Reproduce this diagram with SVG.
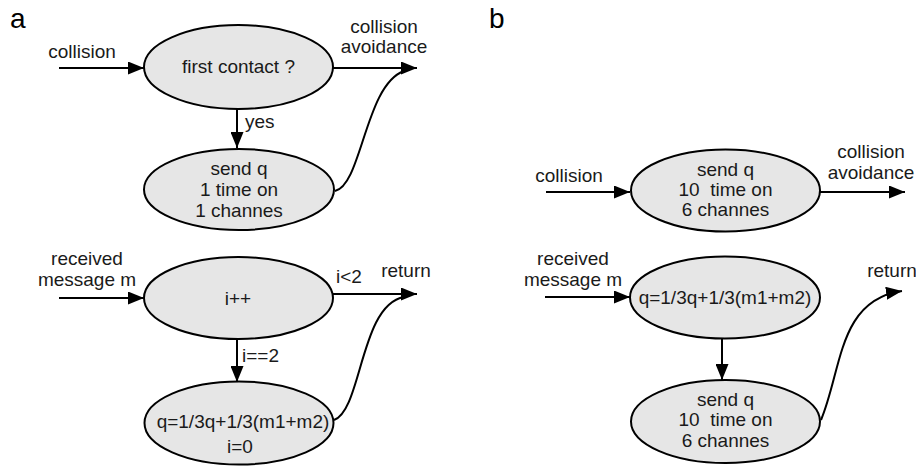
<svg xmlns="http://www.w3.org/2000/svg" width="916" height="467" viewBox="0 0 916 467">
<style>
.n{fill:#e6e6e6;stroke:#000;stroke-width:2}
.t{font-family:"Liberation Sans",Arial,sans-serif;font-size:19px;fill:#1a1a1a;text-anchor:middle}
.s{text-anchor:start}
.c{fill:none;stroke:#000;stroke-width:2}
.p{font-family:"Liberation Sans",Arial,sans-serif;font-size:28px;fill:#000}
</style>
<defs>
<marker id="ah" markerUnits="userSpaceOnUse" markerWidth="17" markerHeight="13" refX="16" refY="6.5" orient="auto">
<path d="M0,0 L16,6.5 L0,13 z" fill="#000"/>
</marker>
</defs>
<rect width="916" height="467" fill="#fff"/>
<text class="p" x="10" y="28">a</text>
<text class="p" x="489" y="28">b</text>

<g id="a-first"><ellipse class="n" cx="238.5" cy="67" rx="94.5" ry="42"/><text class="t" x="238.5" y="73">first contact ?</text></g>
<g id="a-send"><ellipse class="n" cx="239" cy="189.5" rx="95" ry="40.5"/><text class="t" x="239" y="175">send q</text><text class="t" x="239" y="196">1 time on</text><text class="t" x="239" y="217">1 channes</text></g>
<g id="a-inc"><ellipse class="n" cx="238.5" cy="298" rx="94.5" ry="41"/><text class="t" x="238" y="305">i++</text></g>
<g id="a-update"><ellipse class="n" cx="239" cy="423" rx="94.5" ry="41.5"/><text class="t" x="243" y="428">q=1/3q+1/3(m1+m2)</text><text class="t" x="240" y="453">i=0</text></g>

<g id="b-send1"><ellipse class="n" cx="725.5" cy="190.5" rx="94.5" ry="41"/><text class="t" x="725.5" y="176">send q</text><text class="t" x="725.5" y="196" xml:space="preserve">10  time on</text><text class="t" x="725.5" y="216">6 channes</text></g>
<g id="b-update"><ellipse class="n" cx="725" cy="297.5" rx="95" ry="41"/><text class="t" x="725" y="304">q=1/3q+1/3(m1+m2)</text></g>
<g id="b-send2"><ellipse class="n" cx="725.5" cy="421.5" rx="94.5" ry="41.5"/><text class="t" x="725.5" y="406">send q</text><text class="t" x="725.5" y="426" xml:space="preserve">10  time on</text><text class="t" x="725.5" y="447">6 channes</text></g>

<g id="connectors">
<path class="c" d="M59,68 L144,68" marker-end="url(#ah)"/>
<path class="c" d="M333,68 L417,68" marker-end="url(#ah)"/>
<path class="c" d="M237,109 L237,148" marker-end="url(#ah)"/>
<path class="c" d="M335,191 C362,185 365,85 404,71"/>
<path class="c" d="M59,298 L144,298" marker-end="url(#ah)"/>
<path class="c" d="M333,294 L417,294" marker-end="url(#ah)"/>
<path class="c" d="M237,339 L237,382" marker-end="url(#ah)"/>
<path class="c" d="M334,420 C362,410 360,305 404,297"/>
<path class="c" d="M546,192 L630,192" marker-end="url(#ah)"/>
<path class="c" d="M820,192 L905,192" marker-end="url(#ah)"/>
<path class="c" d="M545,297 L630,297" marker-end="url(#ah)"/>
<path class="c" d="M722,338 L722,380" marker-end="url(#ah)"/>
<path class="c" d="M821,420 C842,370 838,300 902,291" marker-end="url(#ah)"/>
</g>

<g id="labels">
<text class="t" x="82" y="58">collision</text>
<text class="t" x="384" y="33">collision</text>
<text class="t" x="384" y="53">avoidance</text>
<text class="t s" x="245" y="128">yes</text>
<text class="t" x="87" y="265">received</text>
<text class="t" x="87" y="286">message m</text>
<text class="t s" x="336" y="283">i&lt;2</text>
<text class="t" x="406" y="277">return</text>
<text class="t s" x="242" y="362">i==2</text>
<text class="t" x="569" y="182">collision</text>
<text class="t" x="871" y="158">collision</text>
<text class="t" x="871" y="179">avoidance</text>
<text class="t" x="573" y="265">received</text>
<text class="t" x="573" y="286">message m</text>
<text class="t" x="892" y="277">return</text>
</g>
</svg>
